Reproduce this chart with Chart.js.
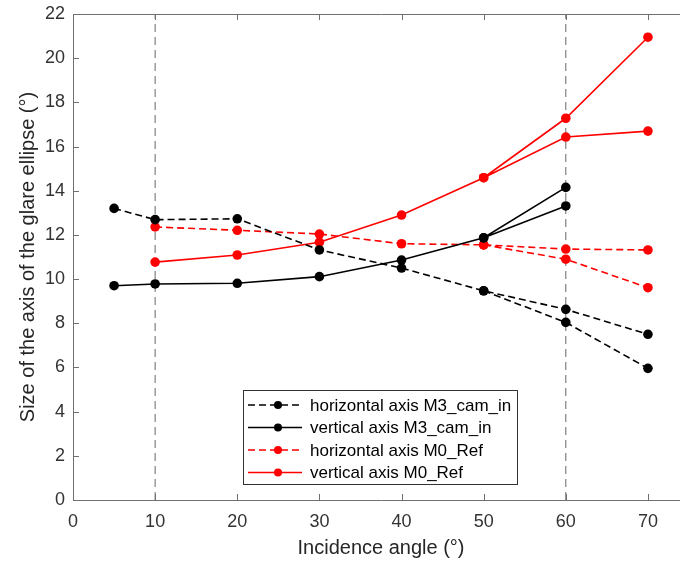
<!DOCTYPE html>
<html>
<head>
<meta charset="utf-8">
<script src="https://cdn.jsdelivr.net/npm/chart.js@4.4.0/dist/chart.umd.min.js"></script>
<style>
  html, body { margin: 0; padding: 0; background: #fff; overflow: hidden; }
  #wrap { width: 700px; height: 565px; }
</style>
</head>
<body>
<div id="wrap"><canvas id="glare" width="700" height="565"></canvas></div>
<script>
// incidence angles (deg)
const anglesM3 = [5, 10, 20, 30, 40, 50, 60, 70];
const anglesM0 = [10, 20, 30, 40, 50, 60, 70];
const branchAngles = [50, 60, 70];   // second branch leaves from 50
const refAngles = [10, 60];          // dashed vertical markers

// glare ellipse axis size (deg)
const horizM3 = [13.2, 12.69, 12.73, 11.32, 10.5, 9.47, 8.63, 7.5];
const horizM3Alt = [9.47, 8.04, 5.96];
const vertM3 = [9.7, 9.78, 9.81, 10.11, 10.86, 11.87, 14.15];
const vertM3Alt = [11.87, 13.31];
const horizM0 = [12.36, 12.21, 12.04, 11.6, 11.55, 11.36, 11.32];
const horizM0Alt = [11.55, 10.9, 9.61];
const vertM0 = [10.77, 11.09, 11.67, 12.9, 14.59, 17.28, 20.95];
const vertM0Alt = [14.59, 16.43, 16.7];

const xTicks = [0, 10, 20, 30, 40, 50, 60, 70];
const yTicks = [0, 2, 4, 6, 8, 10, 12, 14, 16, 18, 20, 22];

const labels = [
  "horizontal axis M3_cam_in",
  "vertical axis M3_cam_in",
  "horizontal axis M0_Ref",
  "vertical axis M0_Ref"
];

const toPts = (xs, ys) => ys.map((v, i) => ({ x: xs[i], y: v }));
// main branch, a break (null), then the alternative branch
const joined = (xs, ys, altYs) => [
  ...toPts(xs, ys),
  { x: branchAngles[0], y: null },
  ...toPts(branchAngles, altYs)
];

const RED = "#ff0000";
const BLACK = "#000000";
const DASH = [7, 4];

function series(label, data, color, dashed) {
  return {
    label: label,
    data: data,
    borderColor: color,
    backgroundColor: color,
    borderWidth: 1.6,
    borderDash: dashed ? DASH : [],
    pointRadius: 4.8,
    pointBorderWidth: 0,
    pointBackgroundColor: color,
    spanGaps: false,
    tension: 0,
    order: 1
  };
}

const refLines = refAngles.map((a) => ({
  data: [{ x: a, y: yTicks[0] }, { x: a, y: yTicks[yTicks.length - 1] }],
  borderColor: "#666",
  borderWidth: 1,
  borderDash: [8, 5],
  pointRadius: 0,
  order: 10
}));

/* ---------- axis box with inward ticks (MATLAB look) ---------- */
const axisBox = {
  id: "axisBox",
  afterDatasetsDraw(chart) {
    const { ctx, chartArea: a, scales: { x, y } } = chart;
    const tl = 6;
    ctx.save();
    ctx.strokeStyle = "#707070";
    ctx.lineWidth = 1;
    ctx.setLineDash([]);
    ctx.beginPath();
    ctx.moveTo(a.left + 0.5, a.top + 0.5);
    ctx.lineTo(a.left + 0.5, a.bottom + 0.5);
    ctx.lineTo(a.right + 0.5, a.bottom + 0.5);
    ctx.lineTo(a.right + 0.5, a.top + 0.5);
    ctx.closePath();
    xTicks.forEach((v) => {
      const px = Math.round(x.getPixelForValue(v)) + 0.5;
      ctx.moveTo(px, a.bottom); ctx.lineTo(px, a.bottom - tl);
      ctx.moveTo(px, a.top); ctx.lineTo(px, a.top + tl);
    });
    yTicks.forEach((v) => {
      const py = Math.round(y.getPixelForValue(v)) + 0.5;
      ctx.moveTo(a.left, py); ctx.lineTo(a.left + tl, py);
      ctx.moveTo(a.right, py); ctx.lineTo(a.right - tl, py);
    });
    ctx.stroke();
    ctx.restore();
  }
};

/* ---------- legend box inside the plot ---------- */
const boxLegend = {
  id: "boxLegend",
  afterDraw(chart) {
    const ctx = chart.ctx;
    const items = chart.data.datasets.filter((d) => d.label);
    const left = 243, top = 390, width = 274, rowH = 22.5;
    const height = 94;
    ctx.save();
    ctx.fillStyle = "#fff";
    ctx.fillRect(left, top, width, height);
    ctx.strokeStyle = "#333";
    ctx.lineWidth = 1;
    ctx.strokeRect(left + 0.5, top + 0.5, width, height);
    ctx.font = "17px 'Liberation Sans', Arial, sans-serif";
    ctx.textBaseline = "middle";
    items.forEach((d, i) => {
      const cy = top + 15 + i * rowH;
      ctx.strokeStyle = d.borderColor;
      ctx.lineWidth = d.borderWidth;
      ctx.setLineDash(d.borderDash);
      ctx.beginPath();
      ctx.moveTo(left + 5, cy);
      ctx.lineTo(left + 59, cy);
      ctx.stroke();
      ctx.setLineDash([]);
      ctx.fillStyle = d.borderColor;
      ctx.beginPath();
      ctx.arc(left + 35, cy, 4, 0, Math.PI * 2);
      ctx.fill();
      ctx.fillStyle = "#000";
      ctx.fillText(d.label, left + 67, cy + 1);
    });
    ctx.restore();
  }
};

const tickFont = { family: "'Liberation Sans', Arial, sans-serif", size: 18 };
const titleFont = { family: "'Liberation Sans', Arial, sans-serif", size: 20 };

new Chart(document.getElementById("glare"), {
  type: "line",
  data: {
    datasets: [
      series(labels[0], joined(anglesM3, horizM3, horizM3Alt), BLACK, true),
      series(labels[1], joined(anglesM3, vertM3, vertM3Alt), BLACK, false),
      series(labels[2], joined(anglesM0, horizM0, horizM0Alt), RED, true),
      series(labels[3], joined(anglesM0, vertM0, vertM0Alt), RED, false),
      ...refLines
    ]
  },
  options: {
    responsive: false,
    devicePixelRatio: 1,
    animation: false,
    layout: { padding: { top: 14, left: 0, right: 11, bottom: 0 } },
    plugins: {
      legend: { display: false },
      tooltip: { enabled: false }
    },
    scales: {
      x: {
        type: "linear",
        min: 0,
        max: 75,
        afterBuildTicks: (s) => { s.ticks = xTicks.map((v) => ({ value: v })); },
        afterFit: (s) => {
          s.height = 65;
          s.paddingLeft = 0; s.paddingRight = 0;
        },
        grid: { display: false, drawTicks: false },
        border: { display: false },
        ticks: { font: tickFont, color: "#333", padding: 11, maxRotation: 0 },
        title: {
          display: true,
          text: "Incidence angle (°)",
          font: titleFont,
          color: "#262626",
          padding: { top: 5, bottom: 5 }
        }
      },
      y: {
        type: "linear",
        min: 0,
        max: 22,
        afterBuildTicks: (s) => { s.ticks = yTicks.map((v) => ({ value: v })); },
        afterFit: (s) => {
          s.width = 73;
          s.paddingTop = 0; s.paddingBottom = 0;
        },
        grid: { display: false, drawTicks: false },
        border: { display: false },
        ticks: { font: tickFont, color: "#333", padding: 8 },
        title: {
          display: true,
          text: "Size of the axis of the glare ellipse (°)",
          font: titleFont,
          color: "#262626",
          padding: { top: 16, bottom: 16 }
        }
      }
    }
  },
  plugins: [axisBox, boxLegend]
});
</script>
</body>
</html>
